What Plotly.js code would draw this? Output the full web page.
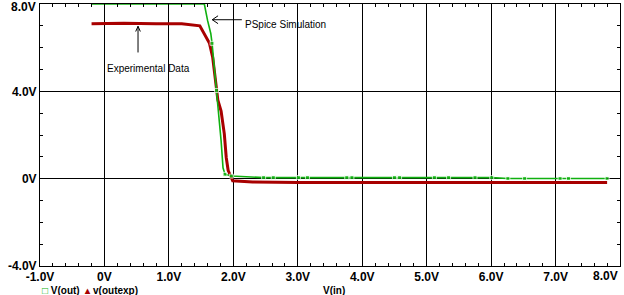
<!DOCTYPE html>
<html>
<head>
<meta charset="utf-8">
<script src="https://cdn.plot.ly/plotly-3.0.1.min.js"></script>
<style>html,body{margin:0;padding:0;background:#fff;}#chart{width:624px;height:295px;}</style>
</head>
<body>
<div id="chart"></div>
<script>
// V(out) — PSpice simulation
var simX = [-0.2, 1.55, 1.60, 1.65, 1.67, 1.70, 1.72, 1.74, 1.775, 1.81, 1.84, 1.87, 1.97, 2.30, 2.47, 2.62, 3.01, 3.15, 3.76, 3.84, 4.50, 4.58, 5.12, 5.34, 5.75, 6.01, 6.26, 6.52, 7.07, 7.20, 7.80];
var simY = [8.0, 8.0, 7.25, 6.65, 6.2, 5.3, 4.5, 4.04, 3.1, 1.74, 0.5, 0.2, 0.12, 0.06, 0.05, 0.05, 0.05, 0.05, 0.05, 0.05, 0.05, 0.05, 0.05, 0.05, 0.05, 0.05, 0.01, 0.01, 0.01, 0.01, 0.01];
var simMarkSize = [0, 0, 0, 0, 4, 0, 0, 4, 0, 0, 0, 4, 4, 0, 4, 4, 4, 4, 4, 4, 4, 4, 4, 4, 4, 4, 4, 4, 4, 4, 4];
// v(outexp) — experimental data
var expX = [-0.2, 0.3, 0.8, 1.2, 1.48, 1.55, 1.63, 1.68, 1.72, 1.76, 1.81, 1.86, 1.89, 1.92, 1.99, 2.3, 3.0, 4.0, 5.0, 6.0, 7.0, 7.8];
var expY = [7.1, 7.12, 7.1, 7.1, 7.0, 6.65, 6.2, 5.55, 4.5, 3.6, 3.1, 2.05, 0.97, 0.37, -0.1, -0.15, -0.17, -0.17, -0.17, -0.17, -0.17, -0.17];
// ticks
var xTickVals = [-1, 0, 1, 2, 3, 4, 5, 6, 7, 8];
var xTickText = ["-1.0V", "0V", "1.0V", "2.0V", "3.0V", "4.0V", "5.0V", "6.0V", "7.0V", ""];
var yTickVals = [-4, 0, 4, 8];
var yTickText = ["-4.0V", "0V", "4.0V", ""];

var tickFont = {family: "Liberation Sans Narrow, Arial Narrow, sans-serif", size: 12, color: "#000", weight: "bold"};
var legFont = {family: "Liberation Sans Narrow, Arial Narrow, sans-serif", size: 10, color: "#000", weight: "bold"};
var annFont = {family: "Liberation Sans Narrow, Arial Narrow, sans-serif", size: 10, color: "#000"};

var traces = [
  {x: expX, y: expY, type: "scatter", mode: "lines", line: {color: "#a80000", width: 3}, showlegend: false},
  {x: simX, y: simY, type: "scatter", mode: "lines+markers", line: {color: "#10b010", width: 1.6},
   marker: {symbol: "square", size: simMarkSize, color: "#10b010"}, showlegend: false}
];

var axisCommon = {
  showline: true, linecolor: "#000", linewidth: 1, mirror: "allticks",
  showgrid: true, gridcolor: "#000", gridwidth: 1, zeroline: false,
  ticks: "inside", ticklen: 0, tickcolor: "#000", tickfont: tickFont
};

var layout = {
  width: 624, height: 295,
  margin: {l: 40, r: 4, t: 4, b: 29},
  paper_bgcolor: "#fff", plot_bgcolor: "#fff",
  xaxis: Object.assign({}, axisCommon, {range: [-1, 8], tickmode: "array", tickvals: xTickVals, ticktext: xTickText,
    minor: {dtick: 0.2, ticks: "inside", ticklen: 3, tickcolor: "#000", showgrid: false}}),
  yaxis: Object.assign({}, axisCommon, {range: [-4, 8], tickmode: "array", tickvals: yTickVals, ticktext: yTickText,
    minor: {dtick: 1, ticks: "inside", ticklen: 3, tickcolor: "#000", showgrid: false}}),
  annotations: [
    {xref: "paper", yref: "paper", x: 1.0, y: -0.038, xanchor: "right", yanchor: "middle", text: "8.0V", showarrow: false, font: tickFont},
    {xref: "paper", yref: "paper", x: -0.003, y: 0.99, xanchor: "right", yanchor: "middle", text: "8.0V", showarrow: false, font: tickFont},
    {xref: "paper", yref: "paper", x: 0.35, y: 0.92, xanchor: "left", yanchor: "middle", text: "PSpice Simulation", showarrow: false, font: annFont},
    {xref: "paper", yref: "paper", x: 0.112, y: 0.755, xanchor: "left", yanchor: "middle", text: "Experimental Data", showarrow: false, font: annFont},
    {xref: "paper", yref: "paper", x: 0.0, y: -0.092, xanchor: "left", yanchor: "middle", text: "<span style='color:#10b010'>□</span> V(out)  <span style='color:#a80000'>▴</span> v(outexp)", showarrow: false, font: legFont},
    {xref: "paper", yref: "paper", x: 0.485, y: -0.092, xanchor: "left", yanchor: "middle", text: "V(in)", showarrow: false, font: legFont}
  ],
  shapes: [
    {type: "line", xref: "paper", yref: "paper", x0: 0.348, y0: 0.94, x1: 0.297, y1: 0.94, line: {color: "#000", width: 1}},
    {type: "path", xref: "paper", yref: "paper", path: "M0.297,0.94 L0.307,0.955 M0.297,0.94 L0.307,0.925", line: {color: "#000", width: 1}},
    {type: "line", xref: "paper", yref: "paper", x0: 0.169, y0: 0.815, x1: 0.169, y1: 0.915, line: {color: "#000", width: 1}},
    {type: "path", xref: "paper", yref: "paper", path: "M0.169,0.915 L0.165,0.895 M0.169,0.915 L0.173,0.895", line: {color: "#000", width: 1}}
  ]
};

Plotly.newPlot("chart", traces, layout, {displayModeBar: false, staticPlot: true});
</script>
</body>
</html>
